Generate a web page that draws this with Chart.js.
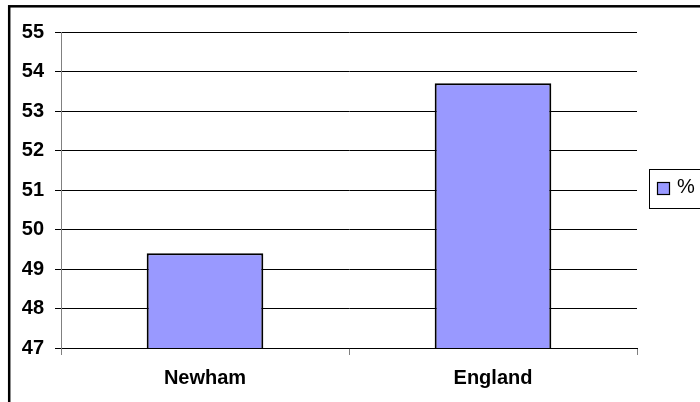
<!DOCTYPE html>
<html>
<head>
<meta charset="utf-8">
<script src="https://cdn.jsdelivr.net/npm/chart.js@4.4.1/dist/chart.umd.min.js"></script>
<style>
  html, body { margin: 0; padding: 0; background: #fff; }
  #wrap { position: relative; width: 700px; height: 402px; }
  canvas { display: block; }
</style>
</head>
<body>
<div id="wrap"><canvas id="chart" width="700" height="402"></canvas></div>
<script>
// Share of population (%), by area
const categories = ['Newham', 'England'];
const seriesLabel = '%';
const seriesValues = [49.4, 53.7];
const yMin = 47;
const yMax = 55;
const yStep = 1;

const FONT = '"Liberation Sans", Arial, sans-serif';
const BAR_FILL = '#9999FF';

// Outer frame of the chart object
const framePlugin = {
  id: 'frame',
  beforeDraw(chart) {
    const ctx = chart.ctx;
    ctx.save();
    ctx.fillStyle = '#ffffff';
    ctx.fillRect(0, 0, chart.width, chart.height);
    ctx.strokeStyle = '#000000';
    ctx.lineWidth = 2.5;
    ctx.strokeRect(9.2, 6.3, chart.width + 20, chart.height + 20);
    ctx.restore();
  }
};

// Boxed legend on the right side
const boxLegendPlugin = {
  id: 'boxLegend',
  afterDraw(chart) {
    const ctx = chart.ctx;
    const ds = chart.data.datasets[0];
    const x = 649.5, y = 169.5, w = 70, h = 39;
    ctx.save();
    ctx.fillStyle = '#ffffff';
    ctx.fillRect(x, y, w, h);
    ctx.strokeStyle = '#000000';
    ctx.lineWidth = 1;
    ctx.strokeRect(x, y, w, h);
    // swatch
    ctx.fillStyle = ds.backgroundColor;
    ctx.fillRect(657.5, 182.5, 12, 12);
    ctx.lineWidth = 1.2;
    ctx.strokeRect(657.5, 182.5, 12, 12);
    // label
    ctx.fillStyle = '#000000';
    ctx.font = '20px ' + FONT;
    ctx.textAlign = 'left';
    ctx.textBaseline = 'middle';
    ctx.fillText(ds.label, 677, 187);
    ctx.restore();
  }
};

new Chart(document.getElementById('chart'), {
  type: 'bar',
  data: {
    labels: categories,
    datasets: [{
      label: seriesLabel,
      data: seriesValues,
      backgroundColor: BAR_FILL,
      borderColor: '#000000',
      borderWidth: 2,
      borderSkipped: false,
      barPercentage: 0.405,
      categoryPercentage: 1.0
    }]
  },
  options: {
    responsive: false,
    animation: false,
    events: [],
    layout: { padding: { top: 32, right: 63, bottom: 0, left: 0 } },
    plugins: {
      legend: { display: false },
      tooltip: { enabled: false },
      title: { display: false }
    },
    scales: {
      x: {
        grid: {
          drawOnChartArea: false,
          drawTicks: true,
          tickLength: 7,
          color: '#808080',
          offset: true
        },
        border: { display: true, color: '#000000', width: 1 },
        ticks: {
          color: '#000000',
          padding: 11,
          font: { family: FONT, size: 20, weight: 'bold' },
          maxRotation: 0
        },
        afterFit(scale) { scale.height = 54; }
      },
      y: {
        min: yMin,
        max: yMax,
        grid: {
          color: '#000000',
          lineWidth: 1,
          drawTicks: true,
          tickLength: 6
        },
        border: { display: true, color: '#808080', width: 1 },
        ticks: {
          stepSize: yStep,
          color: '#000000',
          padding: 11,
          font: { family: FONT, size: 20, weight: 'bold' }
        },
        afterFit(scale) { scale.width = 61; }
      }
    }
  },
  plugins: [framePlugin, boxLegendPlugin]
});
</script>
</body>
</html>
